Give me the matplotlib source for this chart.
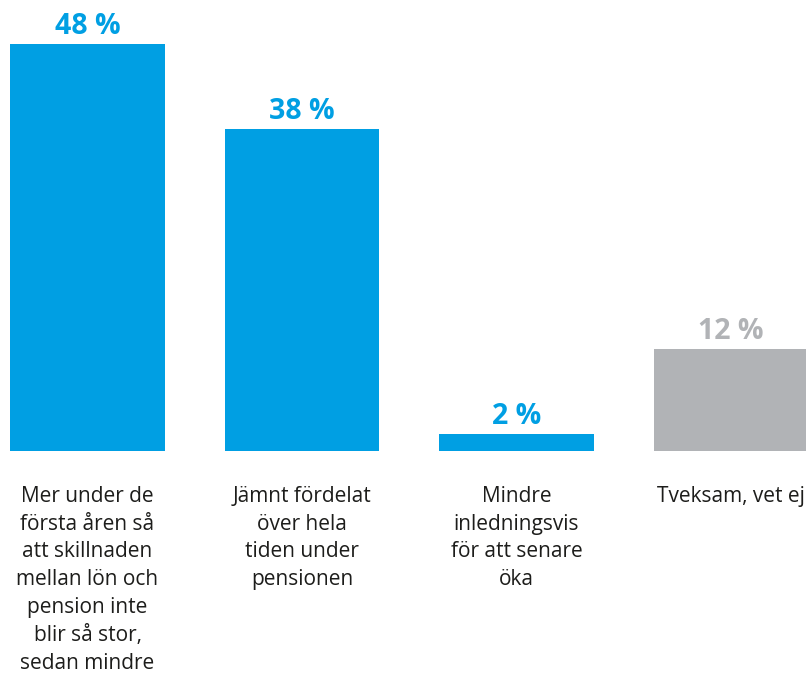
import matplotlib.pyplot as plt

# Data
categories = [
    'Mer under de\nförsta åren så\natt skillnaden\nmellan lön och\npension inte\nblir så stor,\nsedan mindre',
    'Jämnt fördelat\növer hela\ntiden under\npensionen',
    'Mindre\ninledningsvis\nför att senare\nöka',
    'Tveksam, vet ej',
]
values = [48, 38, 2, 12]
value_labels = ['48 %', '38 %', '2 %', '12 %']

blue = '#009FE3'
grey = '#B1B3B6'
colors = [blue, blue, blue, grey]

plt.rcParams['font.family'] = ['Open Sans', 'DejaVu Sans']

fig = plt.figure(figsize=(8.06, 6.75), dpi=100)
ax = fig.add_axes([0, 0.3319, 1, 0.6681])

x = range(len(values))
ax.bar(x, values, width=0.722, color=colors)

# Value labels above bars
for i, v in enumerate(values):
    ax.text(i, v + 0.4, value_labels[i], ha='center', va='bottom',
            fontsize=20.5, fontweight='bold', color=colors[i])

# Category labels below
for i, c in enumerate(categories):
    ax.text(i, -4.1, c, ha='center', va='top', fontsize=15,
            color='#1d1d1b', linespacing=1.43)

ax.set_xlim(-0.408, 3.35)
ax.set_ylim(0, 53.25)
ax.axis('off')

plt.savefig('out.png', dpi=100)
